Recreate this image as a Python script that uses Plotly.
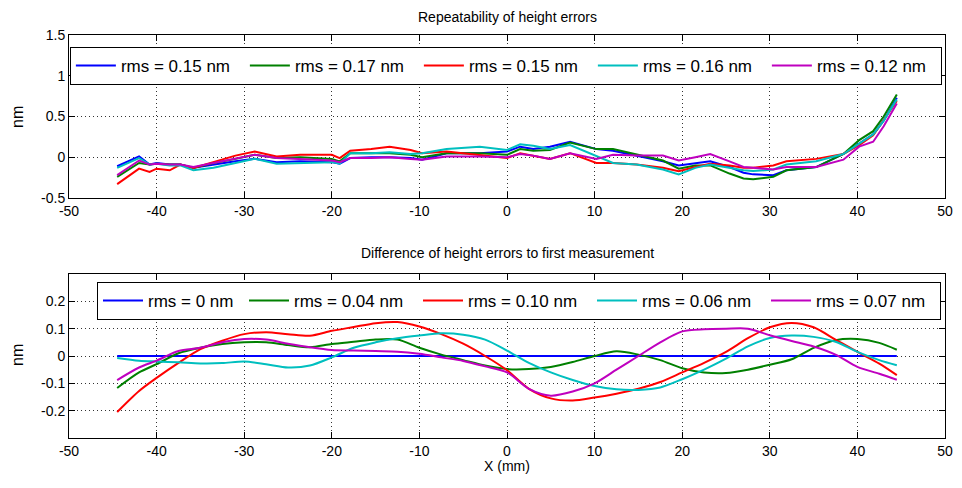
import plotly.graph_objects as go
from plotly.subplots import make_subplots

# ---------------- data ----------------
x_top = [-44.5, -42, -40.8, -40, -38.5, -37.3, -35.8, -33.5, -31, -28.8, -26.3, -23.6, -20, -19.1,
         -17.9, -15.5, -13.4, -11, -9.7, -6.9, -3.1, 0, 1.5, 3, 4.9, 7.2, 10.2, 12.1, 14.8, 17.8,
         19.6, 21.5, 23.2, 25.4, 27, 28.1, 30.4, 31.9, 35.3, 38.4, 40.2, 41.8, 43, 44.5]

top_blue = [-0.11, 0.01, -0.09, -0.07, -0.09, -0.09, -0.13, -0.09, -0.05, -0.02, -0.06, -0.05, -0.06, -0.08,
            -0.01, 0.0, 0.0, -0.01, -0.03, 0.05, 0.05, 0.07, 0.13, 0.10, 0.13, 0.19, 0.10, 0.08, 0.02, -0.05,
            -0.10, -0.07, -0.05, -0.12, -0.19, -0.21, -0.22, -0.16, -0.12, 0.04, 0.17, 0.28, 0.45, 0.73]
top_green = [-0.24, -0.07, -0.09, -0.08, -0.09, -0.09, -0.13, -0.07, -0.02, 0.03, -0.01, 0.0, -0.02, -0.05,
             0.05, 0.05, 0.05, 0.03, 0.0, 0.05, 0.05, 0.03, 0.10, 0.08, 0.09, 0.18, 0.10, 0.10, 0.03, -0.04,
             -0.14, -0.10, -0.10, -0.20, -0.26, -0.27, -0.24, -0.16, -0.12, 0.04, 0.21, 0.32, 0.50, 0.77]
top_red = [-0.33, -0.14, -0.18, -0.14, -0.16, -0.09, -0.13, -0.06, 0.02, 0.07, 0.01, 0.03, 0.03, -0.01,
           0.08, 0.10, 0.13, 0.09, 0.05, 0.07, 0.03, -0.01, 0.05, 0.02, -0.02, 0.05, -0.07, -0.07, -0.09, -0.13,
           -0.17, -0.12, -0.08, -0.10, -0.13, -0.13, -0.10, -0.05, -0.02, 0.04, 0.15, 0.27, 0.45, 0.69]
top_cyan = [-0.13, -0.01, -0.09, -0.08, -0.10, -0.10, -0.16, -0.13, -0.07, -0.02, -0.08, -0.07, -0.06, -0.08,
            0.05, 0.05, 0.06, 0.04, 0.05, 0.10, 0.13, 0.09, 0.16, 0.14, 0.10, 0.15, 0.01, -0.07, -0.09, -0.15,
            -0.21, -0.13, -0.09, -0.13, -0.16, -0.17, -0.15, -0.09, -0.05, 0.04, 0.17, 0.28, 0.45, 0.71]
top_magenta = [-0.22, -0.04, -0.09, -0.08, -0.09, -0.09, -0.12, -0.07, -0.01, 0.03, -0.01, -0.02, -0.04, -0.06,
               -0.01, -0.01, 0.0, -0.02, -0.03, 0.01, 0.01, 0.0, 0.04, 0.02, -0.02, 0.05, -0.02, 0.03, 0.02, 0.02,
               -0.04, 0.0, 0.04, -0.05, -0.12, -0.13, -0.15, -0.12, -0.12, -0.03, 0.13, 0.19, 0.38, 0.66]
top_labels = ["rms = 0.15 nm", "rms = 0.17 nm", "rms = 0.15 nm", "rms = 0.16 nm", "rms = 0.12 nm"]

x_bot = [-44.5, -42, -40, -37.5, -35, -32.5, -30, -27.5, -25, -22.5, -20, -17.5, -15, -12.5, -10, -7.5, -5,
         -2.5, 0, 2.5, 5, 7.5, 10, 12.5, 15, 17.5, 20, 22.5, 25, 27.5, 30, 32.5, 35, 37.5, 40, 42.5, 44.5]
bot_blue = [0.0] * len(x_bot)
bot_green = [-0.117, -0.06, -0.03, 0.01, 0.03, 0.044, 0.05, 0.05, 0.04, 0.032, 0.044, 0.052, 0.06, 0.06,
             0.03, 0.005, -0.015, -0.035, -0.048, -0.048, -0.04, -0.022, 0.0, 0.017, 0.005, -0.015, -0.045,
             -0.06, -0.062, -0.05, -0.032, -0.012, 0.03, 0.058, 0.062, 0.048, 0.023]
bot_red = [-0.205, -0.128, -0.08, -0.025, 0.025, 0.056, 0.08, 0.087, 0.08, 0.074, 0.092, 0.106, 0.12, 0.124,
           0.108, 0.08, 0.045, 0.0, -0.052, -0.12, -0.155, -0.163, -0.152, -0.138, -0.12, -0.095, -0.06,
           -0.025, 0.015, 0.065, 0.105, 0.121, 0.105, 0.06, 0.015, -0.028, -0.07]
bot_cyan = [-0.007, -0.017, -0.02, -0.023, -0.027, -0.026, -0.02, -0.03, -0.042, -0.035, -0.005, 0.03, 0.05,
            0.065, 0.075, 0.083, 0.078, 0.06, 0.02, -0.025, -0.06, -0.088, -0.11, -0.122, -0.124, -0.115,
            -0.085, -0.05, -0.01, 0.035, 0.066, 0.075, 0.07, 0.052, 0.015, -0.015, -0.034]
bot_magenta = [-0.088, -0.042, -0.017, 0.018, 0.03, 0.05, 0.062, 0.06, 0.045, 0.032, 0.022, 0.02, 0.018,
               0.016, 0.008, -0.005, -0.018, -0.038, -0.06, -0.12, -0.145, -0.13, -0.1, -0.05, 0.0, 0.05,
               0.09, 0.098, 0.1, 0.1, 0.076, 0.055, 0.035, 0.005, -0.04, -0.065, -0.087]
bot_labels = ["rms = 0 nm", "rms = 0.04 nm", "rms = 0.10 nm", "rms = 0.06 nm", "rms = 0.07 nm"]

x_ticks = [-50, -40, -30, -20, -10, 0, 10, 20, 30, 40, 50]
x_ticktext = ["-50", "-40", "-30", "-20", "-10", "0", "10", "20", "30", "40", "50"]
top_yticks = [-0.5, 0, 0.5, 1, 1.5]
top_yticktext = ["-0.5", "0", "0.5", "1", "1.5"]
bot_yticks = [-0.2, -0.1, 0, 0.1, 0.2]
bot_yticktext = ["-0.2", "-0.1", "0", "0.1", "0.2"]

colors = ["#0000FF", "#008000", "#FF0000", "#00BFBF", "#BF00BF"]

# ---------------- figure ----------------
fig = make_subplots(rows=2, cols=1, vertical_spacing=0.0)

top_series = [top_blue, top_green, top_red, top_cyan, top_magenta]
for ys, c, lab in zip(top_series, colors, top_labels):
    fig.add_trace(go.Scatter(x=x_top, y=ys, mode="lines", name=lab,
                             line=dict(color=c, width=2), legend="legend", legendwidth=119),
                  row=1, col=1)

bot_series = [bot_blue, bot_green, bot_red, bot_cyan, bot_magenta]
bot_widths = [91, 119, 119, 119, 119]
for ys, c, lab, lw in zip(bot_series, colors, bot_labels, bot_widths):
    fig.add_trace(go.Scatter(x=x_bot, y=ys, mode="lines", name=lab,
                             line=dict(color=c, width=2, shape="spline", smoothing=0.8),
                             legend="legend2", legendwidth=lw), row=2, col=1)

font = "Liberation Sans, Arial, sans-serif"
axis_common = dict(showline=True, linecolor="black", linewidth=1, mirror="ticks",
                   ticks="inside", ticklen=6, tickcolor="black", automargin=False,
                   showgrid=True, gridcolor="#333333", griddash="1px,3px", gridwidth=1,
                   zeroline=False, tickfont=dict(family=font, size=14, color="black"))

H_PLOT = 488 - 35 - 50
leg_font = dict(family=font, size=17, color="black")
fig.update_layout(
    width=962, height=488,
    margin=dict(l=69, r=17, t=35, b=50, autoexpand=False),
    plot_bgcolor="white", paper_bgcolor="white",
    font=dict(family=font, size=15, color="black"),
    xaxis=dict(domain=[0, 1], range=[-50, 50], tickvals=x_ticks, ticktext=x_ticktext, **axis_common),
    yaxis=dict(domain=[240 / H_PLOT, 1], range=[-0.5, 1.5], tickvals=top_yticks,
               ticktext=top_yticktext, **axis_common),
    xaxis2=dict(domain=[0, 1], range=[-50, 50], tickvals=x_ticks, ticktext=x_ticktext, **axis_common),
    yaxis2=dict(domain=[0, 164 / H_PLOT], range=[-0.3, 0.3], tickvals=bot_yticks,
                ticktext=bot_yticktext, **axis_common),
    legend=dict(orientation="h", x=0.001, y=(438 - 47) / H_PLOT, xanchor="left", yanchor="top",
                bgcolor="white", bordercolor="black", borderwidth=1, itemwidth=40,
                font=leg_font),
    legend2=dict(orientation="h", x=(97 - 69) / 876, y=(438 - 282) / H_PLOT, xanchor="left",
                 yanchor="top", bgcolor="white", bordercolor="black", borderwidth=1, itemwidth=40,
                 font=leg_font),
    showlegend=True,
    annotations=[
        dict(text="Repeatability of height errors", xref="paper", yref="paper", x=0.5,
             y=(438 - 17) / H_PLOT, xanchor="center", yanchor="middle", showarrow=False,
             font=dict(family=font, size=14, color="black")),
        dict(text="Difference of height errors to first measurement", xref="paper", yref="paper",
             x=0.5, y=(438 - 253) / H_PLOT, xanchor="center", yanchor="middle", showarrow=False,
             font=dict(family=font, size=14, color="black")),
        dict(text="X (mm)", xref="paper", yref="paper", x=0.5, y=(438 - 466) / H_PLOT,
             xanchor="center", yanchor="middle", showarrow=False,
             font=dict(family=font, size=14, color="black")),
        dict(text="nm", xref="paper", yref="paper", x=(17 - 69) / 876, y=(438 - 117) / H_PLOT,
             xanchor="center", yanchor="middle", textangle=-90, showarrow=False,
             font=dict(family=font, size=16, color="black")),
        dict(text="nm", xref="paper", yref="paper", x=(17 - 69) / 876, y=(438 - 355) / H_PLOT,
             xanchor="center", yanchor="middle", textangle=-90, showarrow=False,
             font=dict(family=font, size=16, color="black")),
    ],
)

fig.write_html("out.html", config={"displayModeBar": False},
               post_script="document.body.style.margin='0';document.body.style.padding='0';")
